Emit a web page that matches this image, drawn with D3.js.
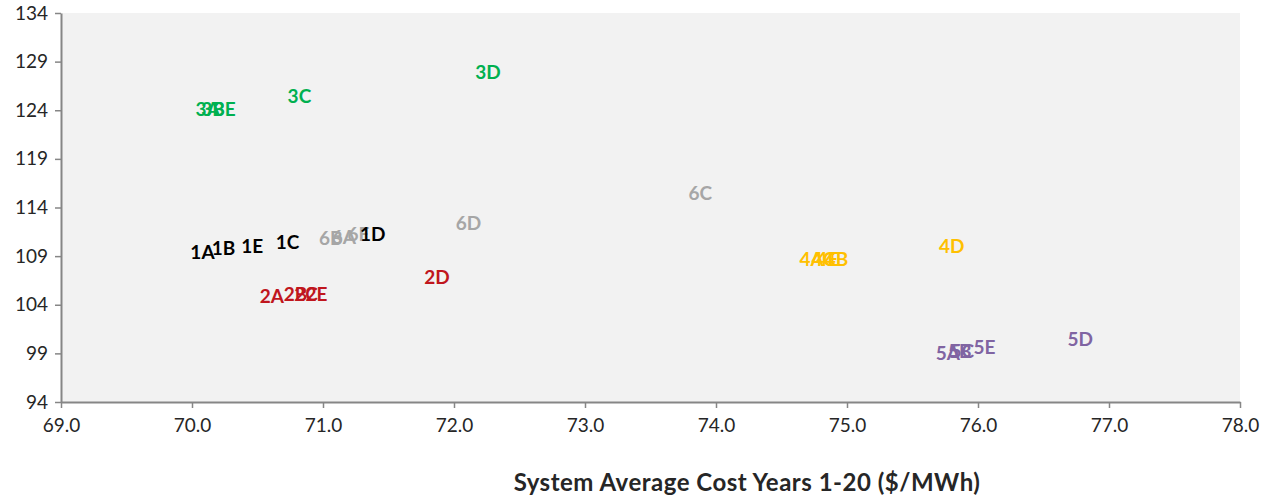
<!DOCTYPE html>
<html>
<head>
<meta charset="utf-8">
<script src="https://cdn.jsdelivr.net/npm/d3@7"></script>
<style>
  html, body { margin: 0; padding: 0; background: #ffffff; }
  svg { display: block; }
</style>
</head>
<body>
<svg id="chart" width="1263" height="495"></svg>
<script>
// ---- data ----
const xTicks = [69, 70, 71, 72, 73, 74, 75, 76, 77, 78];
const yTicks = [94, 99, 104, 109, 114, 119, 124, 129, 134];
const xTitle = "System Average Cost Years 1-20 ($/MWh)";

const series6Labels = ["6B", "6A", "6E", "6D", "6C"];
const series6X = [71.06, 71.16, 71.27, 72.11, 73.88];
const series6Y = [110.9, 111.0, 111.3, 112.5, 115.5];

const series1Labels = ["1A", "1B", "1E", "1C", "1D"];
const series1X = [70.08, 70.24, 70.46, 70.73, 71.38];
const series1Y = [109.5, 109.9, 110.1, 110.5, 111.3];

const series2Labels = ["2A", "2B", "2C", "2E", "2D"];
const series2X = [70.61, 70.79, 70.87, 70.95, 71.87];
const series2Y = [104.9, 105.2, 105.2, 105.2, 106.9];

const series3Labels = ["3A", "3B", "3E", "3C", "3D"];
const series3X = [70.12, 70.16, 70.25, 70.82, 72.26];
const series3Y = [124.2, 124.2, 124.2, 125.5, 128.0];

const series4Labels = ["4A", "4C", "4E", "4B", "4D"];
const series4X = [74.73, 74.82, 74.85, 74.92, 75.80];
const series4Y = [108.8, 108.8, 108.8, 108.8, 110.1];

const series5Labels = ["5A", "5B", "5C", "5E", "5D"];
const series5X = [75.77, 75.86, 75.88, 76.05, 76.78];
const series5Y = [99.1, 99.3, 99.3, 99.75, 100.5];

const seriesColors = ["#a6a6a6", "#000000", "#c0161d", "#00b050", "#ffc000", "#8064a2"];

const allSeries = [
  [series6Labels, series6X, series6Y],
  [series1Labels, series1X, series1Y],
  [series2Labels, series2X, series2Y],
  [series3Labels, series3X, series3Y],
  [series4Labels, series4X, series4Y],
  [series5Labels, series5X, series5Y]
];

// ---- layout ----
const svg = d3.select("#chart");
const mLeft = 61, mRight = 1240, mTop = 13, mBottom = 402;

const x = d3.scaleLinear().domain([69, 78]).range([mLeft, mRight]);
const y = d3.scaleLinear().domain([94, 134]).range([mBottom, mTop]);

svg.append("rect")
  .attr("x", mLeft).attr("y", mTop)
  .attr("width", mRight - mLeft).attr("height", mBottom - mTop)
  .attr("fill", "#f2f2f2");

const axisColor = "#868686";
const tickFont = "Lato, 'Open Sans', sans-serif";

const xAxis = svg.append("g")
  .attr("transform", `translate(0,${mBottom})`)
  .call(d3.axisBottom(x).tickValues(xTicks).tickFormat(d3.format(".1f")).tickSizeInner(6).tickSizeOuter(0).tickPadding(11));
xAxis.select(".domain").attr("stroke", axisColor).attr("stroke-width", 2);
xAxis.selectAll(".tick line").attr("stroke", axisColor).attr("stroke-width", 1.5);
xAxis.selectAll(".tick text").attr("fill", "#262626").attr("font-size", 19)
  .attr("font-family", tickFont);

const yAxis = svg.append("g")
  .attr("transform", `translate(${mLeft},0)`)
  .call(d3.axisLeft(y).tickValues(yTicks).tickFormat(d3.format("d")).tickSizeInner(6).tickSizeOuter(0).tickPadding(7));
yAxis.select(".domain").attr("stroke", axisColor).attr("stroke-width", 2);
yAxis.selectAll(".tick line").attr("stroke", axisColor).attr("stroke-width", 1.5);
yAxis.selectAll(".tick text").attr("fill", "#262626").attr("font-size", 19)
  .attr("font-family", tickFont);

// ---- data labels ----
allSeries.forEach((s, i) => {
  const [labels, xs, ys] = s;
  svg.append("g").selectAll("text")
    .data(labels.map((l, j) => ({ l, x: xs[j], y: ys[j] })))
    .join("text")
    .attr("x", d => x(d.x))
    .attr("y", d => y(d.y))
    .attr("text-anchor", "middle")
    .attr("dominant-baseline", "central")
    .attr("font-family", tickFont)
    .attr("font-weight", "bold")
    .attr("font-size", 19)
    .attr("fill", seriesColors[i])
    .text(d => d.l);
});

// ---- axis title ----
svg.append("text")
  .attr("x", 747)
  .attr("y", 481)
  .attr("text-anchor", "middle")
  .attr("dominant-baseline", "central")
  .attr("font-family", tickFont)
  .attr("font-weight", "bold")
  .attr("font-size", 24)
  .attr("letter-spacing", 0.5)
  .attr("fill", "#262626")
  .text(xTitle);
</script>
</body>
</html>
